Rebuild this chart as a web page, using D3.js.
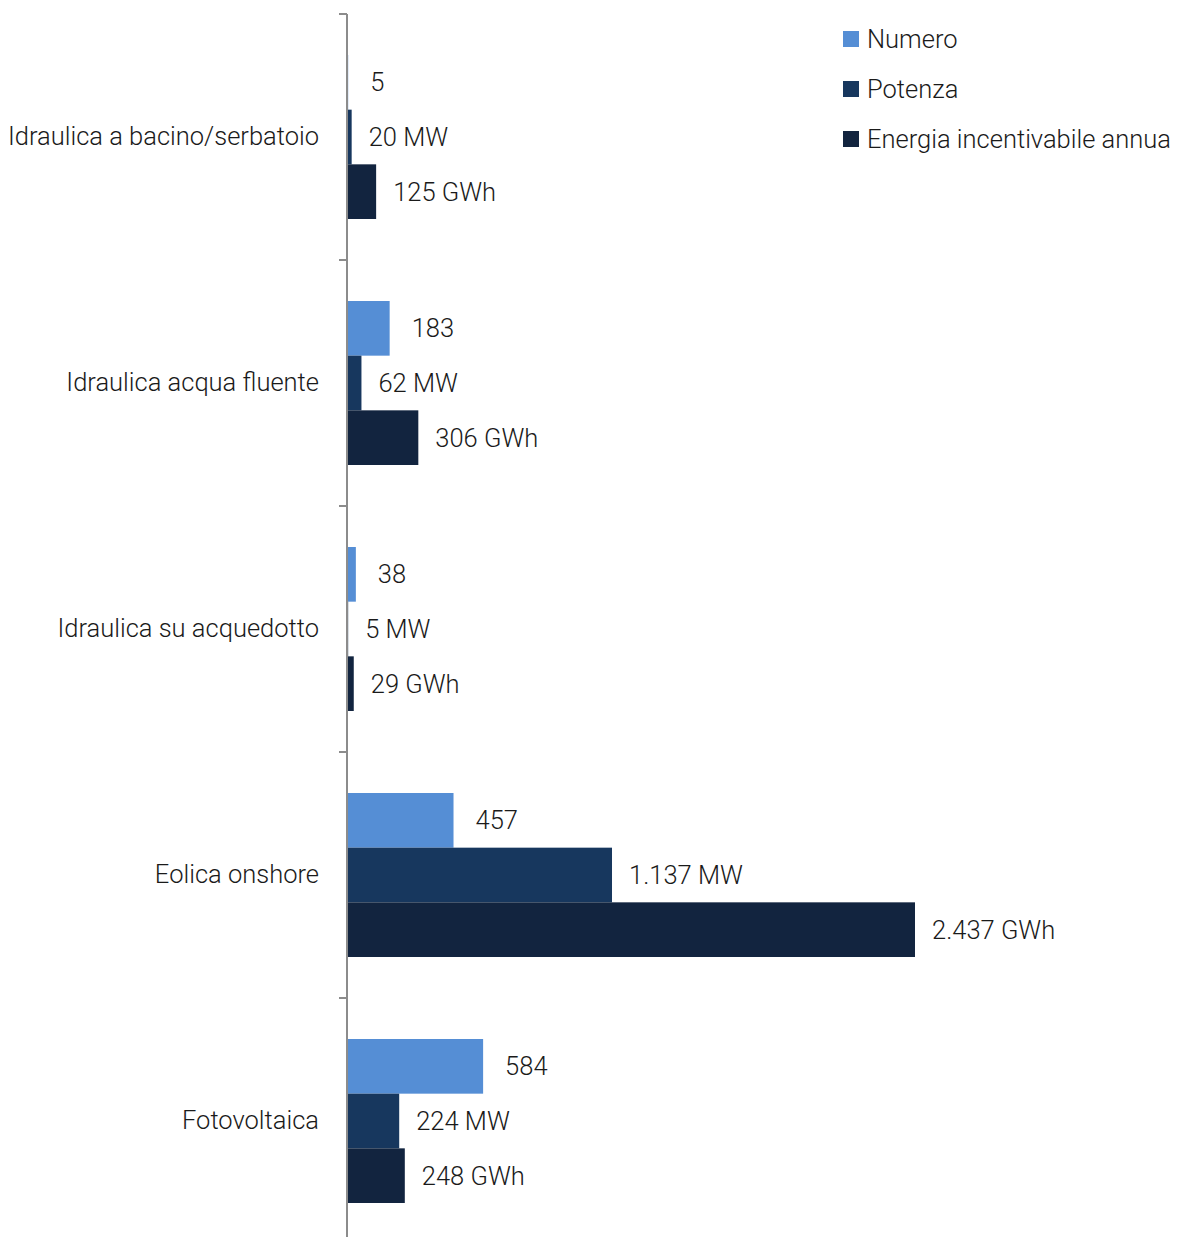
<!DOCTYPE html>
<html>
<head>
<meta charset="utf-8">
<script src="https://cdn.jsdelivr.net/npm/d3@7"></script>
<style>
  html, body { margin: 0; padding: 0; background: #fff; }
  svg text { font-family: Roboto, "Open Sans", sans-serif; font-weight: 300; fill: #1a1a1a; }
</style>
</head>
<body>
<svg id="chart" width="1177" height="1237"></svg>
<script>
// Impianti per tecnologia
const categories = [
  "Idraulica a bacino/serbatoio",
  "Idraulica acqua fluente",
  "Idraulica su acquedotto",
  "Eolica onshore",
  "Fotovoltaica"
];
const seriesNames = ["Numero", "Potenza", "Energia incentivabile annua"];
const seriesUnits = ["", " MW", " GWh"];
const seriesColors = ["#558ed5", "#17375e", "#12243f"];
const numero = [5, 183, 38, 457, 584];
const potenza = [20, 62, 5, 1137, 224];
const energia = [125, 306, 29, 2437, 248];

const seriesValues = [numero, potenza, energia];
const labelGap = [22, 17, 17];
const fontSize = 25.5;

const svg = d3.select("#chart");
const axisX = 347;

const it = d3.formatLocale({ decimal: ",", thousands: ".", grouping: [3], currency: ["€", ""] });
const fmt = it.format(",d");

const y = d3.scaleBand().domain(categories).range([14, 1244]).paddingInner(0).paddingOuter(0);
const ySub = d3.scaleBand().domain(seriesNames).range([0, y.bandwidth()]).paddingOuter(0.75).paddingInner(0);
const x = d3.scaleLinear().domain([0, 2437]).range([axisX, axisX + 568]);

// bars
const groups = svg.append("g").selectAll("g")
  .data(categories)
  .join("g")
  .attr("transform", d => `translate(0,${y(d)})`);

groups.each(function(cat, ci) {
  const g = d3.select(this);
  seriesNames.forEach((s, si) => {
    const v = seriesValues[si][ci];
    g.append("rect")
      .attr("x", x(0))
      .attr("y", ySub(s))
      .attr("width", x(v) - x(0))
      .attr("height", ySub.bandwidth())
      .attr("fill", seriesColors[si]);
    g.append("text")
      .attr("x", x(v) + labelGap[si])
      .attr("y", ySub(s) + ySub.bandwidth() / 2)
      .attr("dy", "0.35em")
      .attr("font-size", fontSize)
      .text(fmt(v) + seriesUnits[si]);
  });
});

// vertical axis
const axis = d3.axisLeft(y).tickSize(0).tickPadding(28);
const ag = svg.append("g").attr("transform", `translate(${axisX},0)`).call(axis);
ag.select(".domain").remove();
ag.selectAll("text").attr("font-size", fontSize).attr("fill", "#1a1a1a")
  .style("font-family", "Roboto, 'Open Sans', sans-serif");
ag.append("line").attr("x1", 0).attr("x2", 0).attr("y1", 14).attr("y2", 1237)
  .attr("stroke", "#8c8c8c").attr("stroke-width", 2);
ag.selectAll(".sep").data(categories).join("line")
  .attr("class", "sep")
  .attr("x1", -8).attr("x2", 0)
  .attr("y1", d => y(d)).attr("y2", d => y(d))
  .attr("stroke", "#8c8c8c").attr("stroke-width", 2);

// legend
const legend = svg.append("g").attr("transform", "translate(843,39)");
seriesNames.forEach((s, i) => {
  const lg = legend.append("g").attr("transform", `translate(0,${i * 50})`);
  lg.append("rect").attr("x", 0).attr("y", -8).attr("width", 16).attr("height", 16).attr("fill", seriesColors[i]);
  lg.append("text").attr("x", 24).attr("y", 0).attr("dy", "0.35em").attr("font-size", fontSize).text(s);
});
</script>
</body>
</html>
